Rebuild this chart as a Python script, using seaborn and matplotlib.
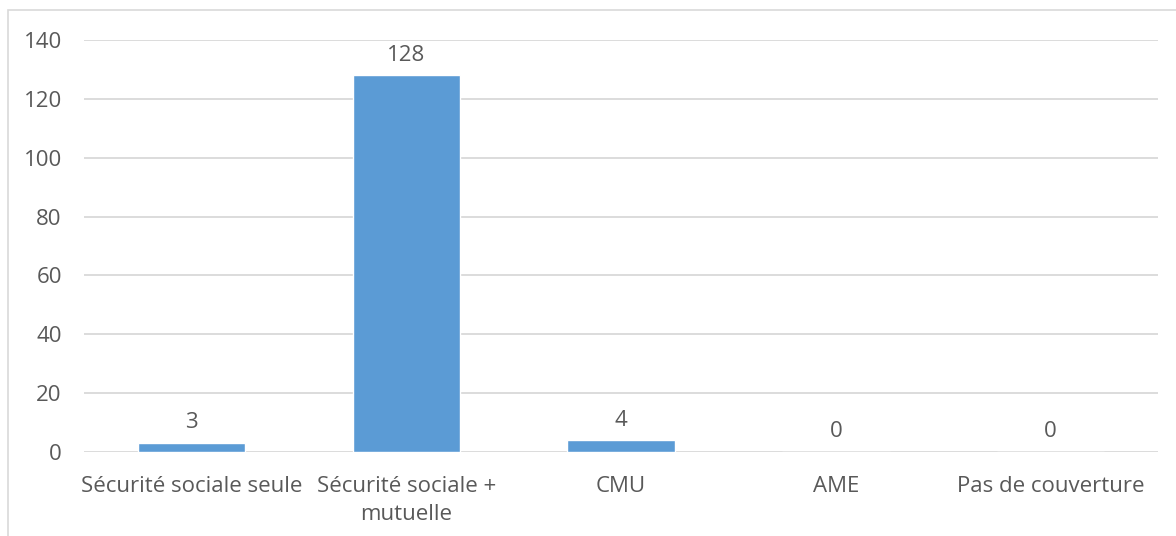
import matplotlib
matplotlib.use("Agg")
import matplotlib.pyplot as plt
import seaborn as sns
import pandas as pd
from matplotlib.patches import Rectangle

categories = ["Sécurité sociale seule", "Sécurité sociale +\nmutuelle", "CMU", "AME", "Pas de couverture"]
values = [3, 128, 4, 0, 0]
y_ticks = [0, 20, 40, 60, 80, 100, 120, 140]

sns.set_theme(style="white")
plt.rcParams["font.family"] = ["Open Sans", "DejaVu Sans"]

text_color = "#595959"
grid_color = "#D9D9D9"
bar_color = "#5B9BD5"
fs = 16

fig = plt.figure(figsize=(11.76, 5.36), dpi=100)
ax = fig.add_axes([84 / 1176, 1 - 452 / 536, (1158 - 84) / 1176, (452 - 40) / 536])

df = pd.DataFrame({"categorie": categories, "valeur": values})
sns.barplot(data=df, x="categorie", y="valeur", color=bar_color, width=0.5,
            saturation=1, ax=ax, zorder=3)

ax.set_ylim(0, 140)
ax.set_xlim(-0.5, len(categories) - 0.5)
ax.set_yticks(y_ticks)
ax.yaxis.grid(True, color=grid_color, linewidth=1.3, zorder=0)
ax.set_axisbelow(True)
for s in ax.spines.values():
    s.set_visible(False)
ax.set_xlabel("")
ax.set_ylabel("")
ax.tick_params(axis="both", length=0, labelsize=fs, colors=text_color)
ax.tick_params(axis="y", pad=16)
ax.tick_params(axis="x", pad=17)
for lbl in ax.get_xticklabels():
    lbl.set_linespacing(1.45)

for i, v in enumerate(values):
    ax.annotate(str(v), xy=(i, v), xytext=(0, 7), textcoords="offset points",
                ha="center", va="bottom", fontsize=fs, color=text_color)

# chart frame
fig.patches.append(Rectangle((8 / 1176, -0.02), 1.02, 1 - 10 / 536 + 0.02,
                             transform=fig.transFigure, fill=False,
                             edgecolor="#D9D9D9", linewidth=1.2))

fig.savefig("out.png", dpi=100, facecolor="white")
